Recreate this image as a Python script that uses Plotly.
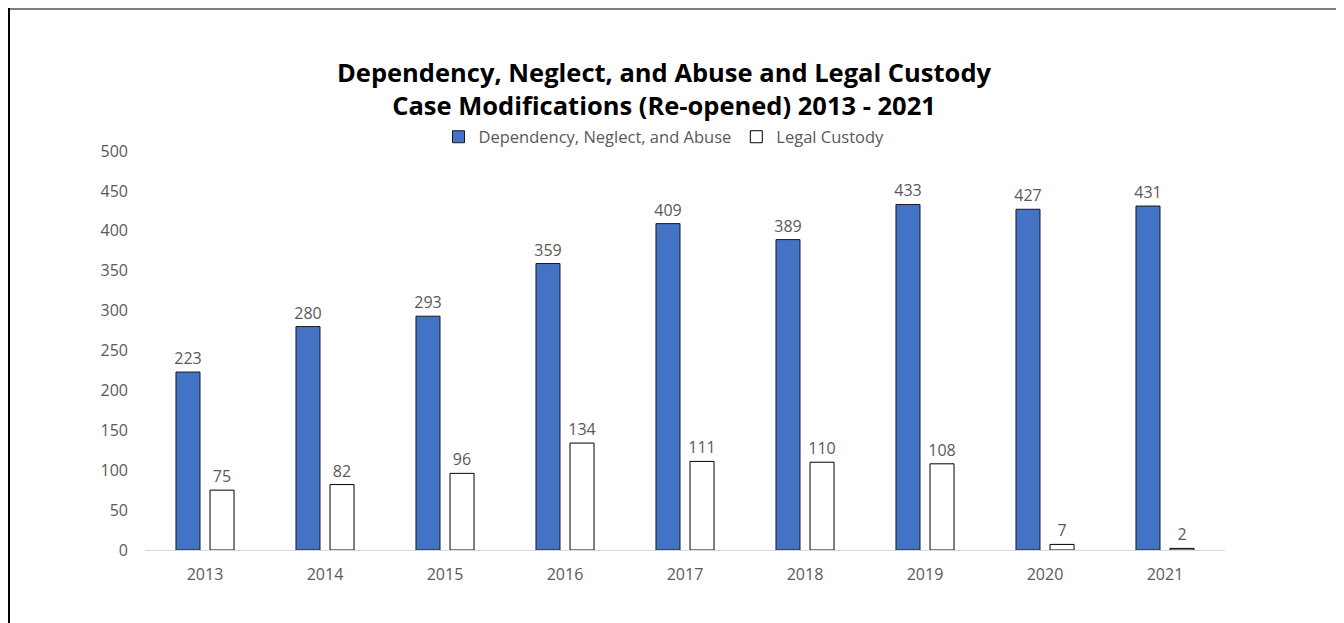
import plotly.graph_objects as go

years = ["2013", "2014", "2015", "2016", "2017", "2018", "2019", "2020", "2021"]
dna_values = [223, 280, 293, 359, 409, 389, 433, 427, 431]
custody_values = [75, 82, 96, 134, 111, 110, 108, 7, 2]
series_names = ["Dependency, Neglect, and Abuse", "Legal Custody"]
y_ticks = [0, 50, 100, 150, 200, 250, 300, 350, 400, 450, 500]

OFF = 8  # page body margin
W, H = 1344 - OFF, 623 - OFF
L, R, T, B = 145 - OFF, 119, 151 - OFF, 73
PW, PH = W - L - R, H - T - B

def px_x(px):
    # px in screenshot coordinates
    return (px - OFF - L) / PW

def px_y(py):
    return (T + PH - (py - OFF)) / PH

label_font = dict(family="Open Sans, Noto Sans, sans-serif", size=16, color="#595959")

fig = go.Figure()
fig.add_trace(go.Bar(
    x=years, y=dna_values, name=series_names[0],
    marker=dict(color="#4472C4", line=dict(color="#1a1a1a", width=1)),
    text=dna_values, textposition="outside", textfont=label_font,
    constraintext="none", cliponaxis=False,
))
fig.add_trace(go.Bar(
    x=years, y=custody_values, name=series_names[1],
    marker=dict(color="#FFFFFF", line=dict(color="#000000", width=1)),
    text=custody_values, textposition="outside", textfont=label_font,
    constraintext="none", cliponaxis=False,
))

fig.update_layout(
    width=W, height=H,
    margin=dict(l=L, r=R, t=T, b=B, pad=0, autoexpand=False),
    paper_bgcolor="white", plot_bgcolor="white",
    barmode="group", bargap=0.433, bargroupgap=0.294,
    title=dict(
        text="Dependency, Neglect, and Abuse and Legal Custody<br>Case Modifications (Re-opened) 2013 - 2021",
        x=(664 - OFF) / W, xref="container", xanchor="center",
        y=1 - (82 - OFF) / H, yref="container", yanchor="top",
        font=dict(family="Open Sans, Noto Sans, sans-serif", size=25.5, color="#000000", weight="bold"),
    ),
    legend=dict(
        orientation="h",
        xref="paper", x=px_x(664), xanchor="center",
        yref="paper", y=px_y(137), yanchor="middle",
        font=dict(family="Open Sans, Noto Sans, sans-serif", size=16.5, color="#595959"),
        itemwidth=30, tracegroupgap=0,
        bgcolor="rgba(0,0,0,0)",
    ),
    xaxis=dict(
        type="category", showgrid=False, showline=True, linecolor="#d9d9d9", linewidth=1,
        ticks="", tickfont=label_font, ticklabelstandoff=10, zeroline=False,
    ),
    yaxis=dict(
        range=[0, 500], tickvals=y_ticks, showgrid=False, showline=False, zeroline=False,
        ticks="", tickfont=label_font, ticklabelstandoff=16,
    ),
    shapes=[
        dict(type="line", xref="paper", yref="paper",
             x0=px_x(9), x1=px_x(1344), y0=px_y(9), y1=px_y(9),
             line=dict(color="#7f7f7f", width=2)),
        dict(type="line", xref="paper", yref="paper",
             x0=px_x(9), x1=px_x(9), y0=px_y(8), y1=px_y(623),
             line=dict(color="#000000", width=2)),
    ],
)

fig.write_html("out.html")
